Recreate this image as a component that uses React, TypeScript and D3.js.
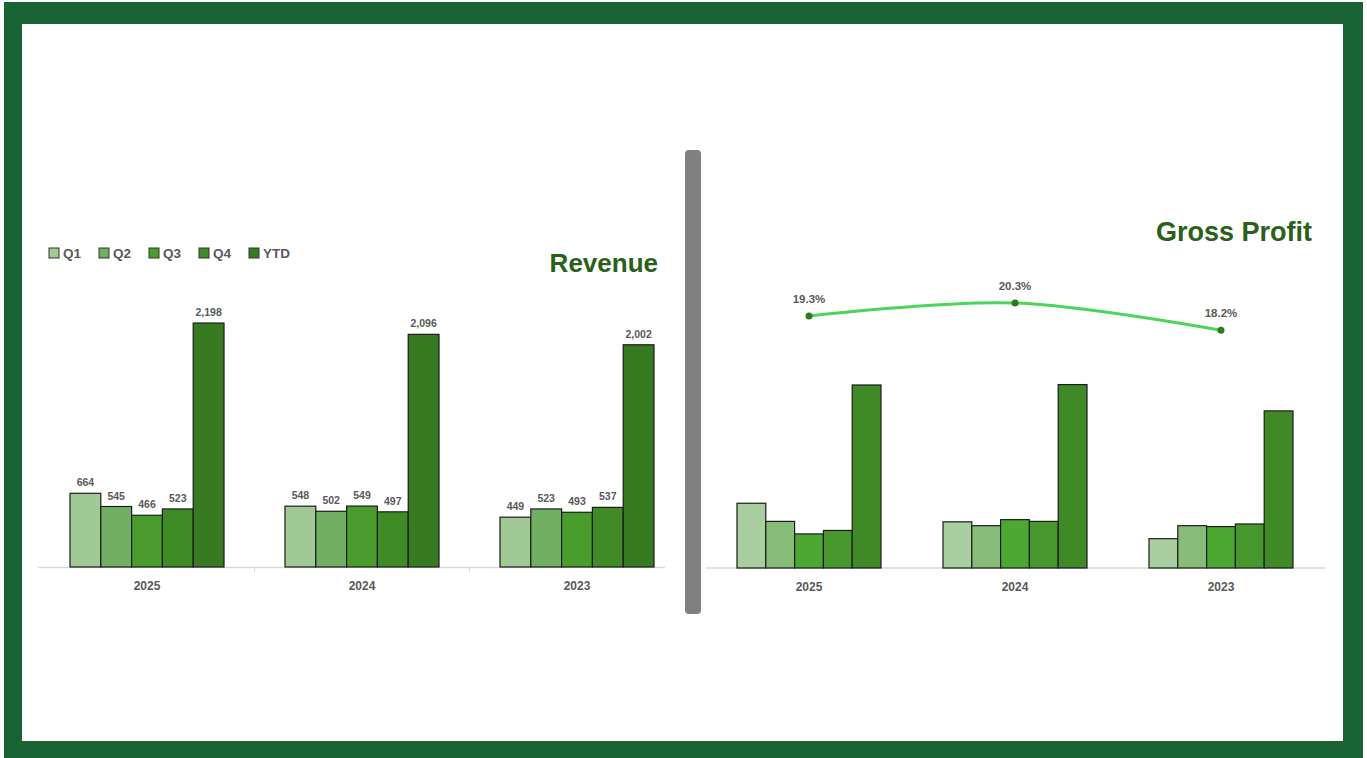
import React, { useEffect, useRef } from 'react'
import * as d3 from 'd3'

const years = ['2025', '2024', '2023']
const quarters = ['Q1', 'Q2', 'Q3', 'Q4', 'YTD']

// revenue per year: Q1..Q4, YTD
const revenue2025 = [664, 545, 466, 523, 2198]
const revenue2024 = [548, 502, 549, 497, 2096]
const revenue2023 = [449, 523, 493, 537, 2002]

// gross profit per year (no labels in the picture)
const gp2025 = [150, 108, 79, 87, 424]
const gp2024 = [107, 98, 112, 108, 425]
const gp2023 = [68, 98, 96, 102, 364]

// gross margin %
const margin = [19.3, 20.3, 18.2]

const revColors = ['#a0c995', '#71b062', '#4a9d2c', '#3f8c26', '#377a21']
const gpColors = ['#a9cea0', '#88bc79', '#4ca832', '#47982c', '#3f8a26']

const App = () => {
  const ref = useRef<SVGSVGElement>(null)

  useEffect(() => {
    const svg = d3.select(ref.current)
    svg.selectAll('*').remove()
    const font = '"Liberation Sans", Arial, sans-serif'
    const grey = '#595959'
    const titleColor = '#2a6019'

    // frame
    svg.append('rect').attr('x', 4).attr('y', 2).attr('width', 1359).attr('height', 756).attr('fill', '#1a6335')
    svg.append('rect').attr('x', 22).attr('y', 24).attr('width', 1321).attr('height', 717).attr('fill', '#fff')

    const revenue = [revenue2025, revenue2024, revenue2023]
    const gp = [gp2025, gp2024, gp2023]

    // ---------- Revenue ----------
    const x0 = d3.scaleBand().domain(years).range([39.5, 684.5])
    const x1 = d3.scaleBand().domain(quarters).range([0, 154]).padding(0)
    const y = d3.scaleLinear().domain([0, 2500]).range([567, 289.5])

    const left = svg.append('g')
    left.append('line').attr('x1', 38).attr('x2', 665).attr('y1', 567.5).attr('y2', 567.5)
      .attr('stroke', '#d9d9d9').attr('stroke-width', 1.5)
    ;[254.5, 469.5].forEach(t => left.append('line').attr('x1', t).attr('x2', t).attr('y1', 567.5).attr('y2', 572)
      .attr('stroke', '#d9d9d9').attr('stroke-width', 1))

    years.forEach((yr, gi) => {
      const gx = x0(yr)! + (x0.bandwidth() - 154) / 2
      const g = left.append('g').attr('transform', `translate(${gx},0)`)
      g.selectAll('rect').data(revenue[gi]).join('rect')
        .attr('x', (d, i) => x1(quarters[i])!)
        .attr('y', d => y(d))
        .attr('width', x1.bandwidth())
        .attr('height', d => y(0) - y(d))
        .attr('fill', (d, i) => revColors[i])
        .attr('stroke', '#1c1c1c').attr('stroke-width', 1.2)
      g.selectAll('text').data(revenue[gi]).join('text')
        .attr('x', (d, i) => x1(quarters[i])! + x1.bandwidth() / 2)
        .attr('y', d => y(d) - 7)
        .attr('text-anchor', 'middle')
        .attr('font-family', font).attr('font-weight', 'bold').attr('font-size', 10.5)
        .attr('fill', grey)
        .text(d => d3.format(',')(d))
      left.append('text').attr('x', x0(yr)! + x0.bandwidth() / 2).attr('y', 590)
        .attr('text-anchor', 'middle').attr('font-family', font).attr('font-weight', 'bold')
        .attr('font-size', 12).attr('fill', grey).text(yr)
    })

    // legend
    quarters.forEach((q, i) => {
      const lx = 49 + i * 50
      left.append('rect').attr('x', lx).attr('y', 248).attr('width', 10).attr('height', 10)
        .attr('fill', revColors[i]).attr('stroke', '#333').attr('stroke-width', 1)
      left.append('text').attr('x', lx + 14).attr('y', 258)
        .attr('font-family', font).attr('font-weight', 'bold').attr('font-size', 13.5)
        .attr('fill', grey).text(q)
    })

    left.append('text').attr('x', 658).attr('y', 272).attr('text-anchor', 'end')
      .attr('font-family', font).attr('font-weight', 'bold').attr('font-size', 26)
      .attr('fill', titleColor).text('Revenue')

    // separator
    svg.append('rect').attr('x', 685).attr('y', 150).attr('width', 16).attr('height', 464)
      .attr('rx', 4).attr('fill', '#808080')

    // ---------- Gross Profit ----------
    const gx0 = d3.scaleBand().domain(years).range([706, 1324])
    const gx1 = d3.scaleBand().domain(quarters).range([0, 144]).padding(0)
    const gy = d3.scaleLinear().domain([0, 500]).range([568, 352.2])
    const my = d3.scaleLinear().domain([0, 20]).range([568, 306.8])

    const right = svg.append('g')
    right.append('line').attr('x1', 706).attr('x2', 1325).attr('y1', 568).attr('y2', 568)
      .attr('stroke', '#d9d9d9').attr('stroke-width', 1.5)

    years.forEach((yr, gi) => {
      const gx = gx0(yr)! + (gx0.bandwidth() - 144) / 2
      const g = right.append('g').attr('transform', `translate(${gx},0)`)
      g.selectAll('rect').data(gp[gi]).join('rect')
        .attr('x', (d, i) => gx1(quarters[i])!)
        .attr('y', d => gy(d))
        .attr('width', gx1.bandwidth())
        .attr('height', d => gy(0) - gy(d))
        .attr('fill', (d, i) => gpColors[i])
        .attr('stroke', '#1c1c1c').attr('stroke-width', 1.2)
      right.append('text').attr('x', gx0(yr)! + gx0.bandwidth() / 2).attr('y', 591)
        .attr('text-anchor', 'middle').attr('font-family', font).attr('font-weight', 'bold')
        .attr('font-size', 12).attr('fill', grey).text(yr)
    })

    const line = d3.line<number>()
      .x((d, i) => gx0(years[i])! + gx0.bandwidth() / 2)
      .y(d => my(d))
      .curve(d3.curveCatmullRom.alpha(0.5))
    right.append('path').attr('d', line(margin)).attr('fill', 'none')
      .attr('stroke', '#4cd45c').attr('stroke-width', 3)
    right.selectAll('circle').data(margin).join('circle')
      .attr('cx', (d, i) => gx0(years[i])! + gx0.bandwidth() / 2)
      .attr('cy', d => my(d)).attr('r', 3.5).attr('fill', '#2f7a1f')
    right.selectAll('text.m').data(margin).join('text').attr('class', 'm')
      .attr('x', (d, i) => gx0(years[i])! + gx0.bandwidth() / 2)
      .attr('y', d => my(d) - 13)
      .attr('text-anchor', 'middle').attr('font-family', font).attr('font-weight', 'bold')
      .attr('font-size', 11.5).attr('fill', grey)
      .text(d => d.toFixed(1) + '%')

    right.append('text').attr('x', 1312).attr('y', 241).attr('text-anchor', 'end')
      .attr('font-family', font).attr('font-weight', 'bold').attr('font-size', 27)
      .attr('fill', titleColor).text('Gross Profit')
  }, [])

  return <div style={{ position: 'fixed', left: 0, top: 0, width: 1367, height: 758 }}>
    <svg ref={ref} width={1367} height={758} style={{ display: 'block' }} />
  </div>
}

export default App
